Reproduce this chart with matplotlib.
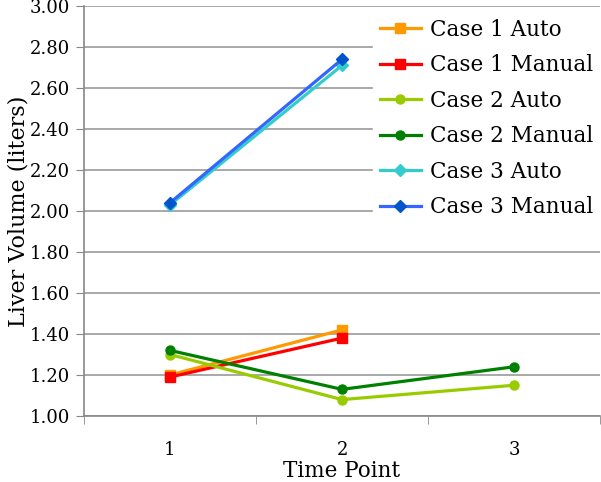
import matplotlib
matplotlib.use("Agg")
import matplotlib.pyplot as plt

time_points = [1, 2, 3]
case1_auto = [1.20, 1.42, None]
case1_manual = [1.19, 1.38, None]
case2_auto = [1.30, 1.08, 1.15]
case2_manual = [1.32, 1.13, 1.24]
case3_auto = [2.03, 2.71, None]
case3_manual = [2.04, 2.74, None]

series = [
    ("Case 1 Auto", case1_auto, "#FF9900", "s"),
    ("Case 1 Manual", case1_manual, "#FF0000", "s"),
    ("Case 2 Auto", case2_auto, "#99CC00", "o"),
    ("Case 2 Manual", case2_manual, "#008000", "o"),
    ("Case 3 Auto", case3_auto, "#33CCCC", "D"),
    ("Case 3 Manual", case3_manual, "#3366FF", "D"),
]
marker_colors = {"Case 3 Manual": "#0055CC"}

SERIF = "DejaVu Serif"

fig = plt.figure(figsize=(6.01, 4.82), dpi=100)
ax = fig.add_axes([84/601, 66/482, 516/601, 410/482])

for name, vals, col, mk in series:
    xs = [t for t, v in zip(time_points, vals) if v is not None]
    ys = [v for v in vals if v is not None]
    ax.plot(xs, ys, color=col, lw=2.3, marker=mk, ms=6.5 if mk != "D" else 6,
            mfc=marker_colors.get(name, col), mec=marker_colors.get(name, col), label=name)

ax.set_xlim(0.5, 3.5)
ax.set_ylim(1.0, 3.0)
yt = [1.0 + 0.2 * i for i in range(11)]
ax.set_yticks(yt)
ax.set_yticklabels([f"{v:.2f}" for v in yt], fontfamily=SERIF, fontsize=13)
ax.set_xticks(time_points)
ax.set_xticklabels([str(t) for t in time_points], fontfamily=SERIF, fontsize=13)
ax.set_xticks([0.5, 1.5, 2.5, 3.5], minor=True)
ax.tick_params(axis="x", which="major", length=0, pad=18)
ax.tick_params(axis="x", which="minor", length=6, color="#888888")
ax.tick_params(axis="y", length=6, color="#888888", pad=4)
ax.yaxis.grid(True, color="#999999", lw=1.2)
ax.set_axisbelow(True)
for s in ["top", "right"]:
    ax.spines[s].set_visible(False)
for s in ["left", "bottom"]:
    ax.spines[s].set_color("#888888")
    ax.spines[s].set_linewidth(1.2)

ax.set_ylabel("Liver Volume (liters)", fontfamily=SERIF, fontsize=16, labelpad=0)
ax.set_xlabel("Time Point", fontfamily=SERIF, fontsize=15.5, labelpad=0.5)

leg = ax.legend(loc="upper right", bbox_to_anchor=(1.0, 0.985), frameon=True,
                prop={"family": SERIF, "size": 15.5}, handlelength=1.9,
                labelspacing=0.63, borderaxespad=0.0, handletextpad=0.45,
                borderpad=0.3)
leg.get_frame().set_edgecolor("white")
leg.get_frame().set_facecolor("white")
leg.get_frame().set_alpha(1.0)

fig.savefig("out.png", dpi=100)
